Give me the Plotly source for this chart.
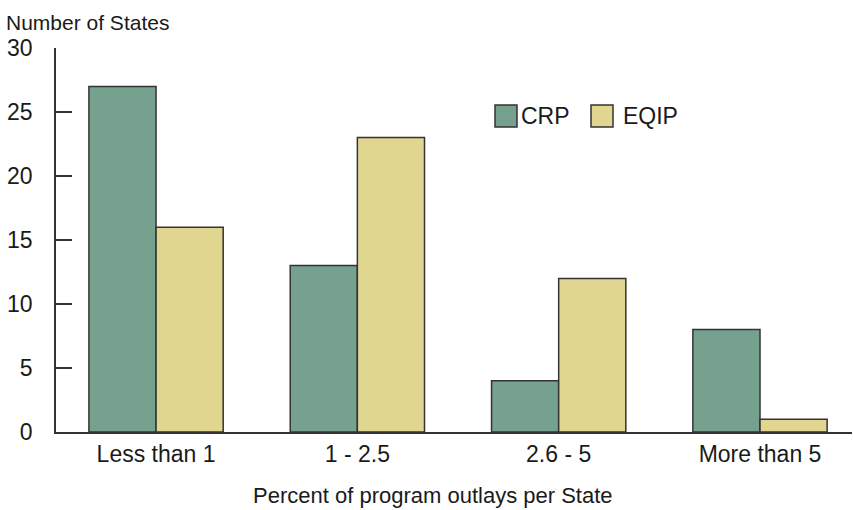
import plotly.graph_objects as go

categories = ["Less than 1", "1 - 2.5", "2.6 - 5", "More than 5"]
crp_values = [27, 13, 4, 8]
eqip_values = [16, 23, 12, 1]
y_ticks = [0, 5, 10, 15, 20, 25, 30]

CRP_COLOR = "#76a18f"
EQIP_COLOR = "#e0d690"
LINE_COLOR = "#333333"
FONT = "Liberation Sans, Arial, Helvetica, sans-serif"

fig = go.Figure()
fig.add_trace(go.Bar(x=categories, y=crp_values, name="CRP",
                     marker=dict(color=CRP_COLOR, line=dict(color=LINE_COLOR, width=1.5))))
fig.add_trace(go.Bar(x=categories, y=eqip_values, name="EQIP",
                     marker=dict(color=EQIP_COLOR, line=dict(color=LINE_COLOR, width=1.5))))

fig.update_layout(
    width=853, height=510,
    margin=dict(l=56, r=1, t=48, b=78, autoexpand=False),
    paper_bgcolor="white", plot_bgcolor="white",
    barmode="group", bargap=0.333, bargroupgap=0,
    showlegend=False,
    font=dict(family=FONT, size=22, color="#1a1a1a"),
)
fig.update_xaxes(
    type="category", range=[-0.497, 3.457], automargin=False,
    showline=True, linecolor=LINE_COLOR, linewidth=1.5,
    ticks="", showgrid=False, zeroline=False,
    tickfont=dict(size=23), ticklabelstandoff=1,
)
fig.update_yaxes(
    range=[0, 30], tickvals=y_ticks, automargin=False,
    showline=True, linecolor=LINE_COLOR, linewidth=1.5,
    ticks="inside", ticklen=16, tickwidth=1.5, tickcolor=LINE_COLOR,
    showgrid=False, zeroline=False,
    tickfont=dict(size=23), ticklabelstandoff=17,
)

# y-axis title
fig.add_annotation(text="Number of States", xref="paper", yref="paper",
                   x=-52/796, y=1 + 26/384, xanchor="left", yanchor="middle",
                   showarrow=False, font=dict(size=21))
# x-axis title
fig.add_annotation(text="Percent of program outlays per State", xref="paper", yref="paper",
                   x=(433-56)/796, y=-(495-432)/384, xanchor="center", yanchor="middle",
                   showarrow=False, font=dict(size=22))

# legend (manual)
legend_items = [("CRP", CRP_COLOR, 495, 519), ("EQIP", EQIP_COLOR, 591, 621)]
for label, color, px, tx in legend_items:
    x0 = (px - 56) / 796
    x1 = (px + 22 - 56) / 796
    y0 = (432 - 127) / 384
    y1 = (432 - 105) / 384
    fig.add_shape(type="rect", xref="paper", yref="paper", x0=x0, x1=x1, y0=y0, y1=y1,
                  fillcolor=color, line=dict(color=LINE_COLOR, width=1.5))
    fig.add_annotation(text=label, xref="paper", yref="paper",
                       x=(tx - 56) / 796, y=(432 - 116) / 384,
                       xanchor="left", yanchor="middle",
                       showarrow=False, font=dict(size=23))

fig.write_html("out.html", config={"displayModeBar": False},
               post_script="document.body.style.margin='0';document.body.style.overflow='hidden';")
